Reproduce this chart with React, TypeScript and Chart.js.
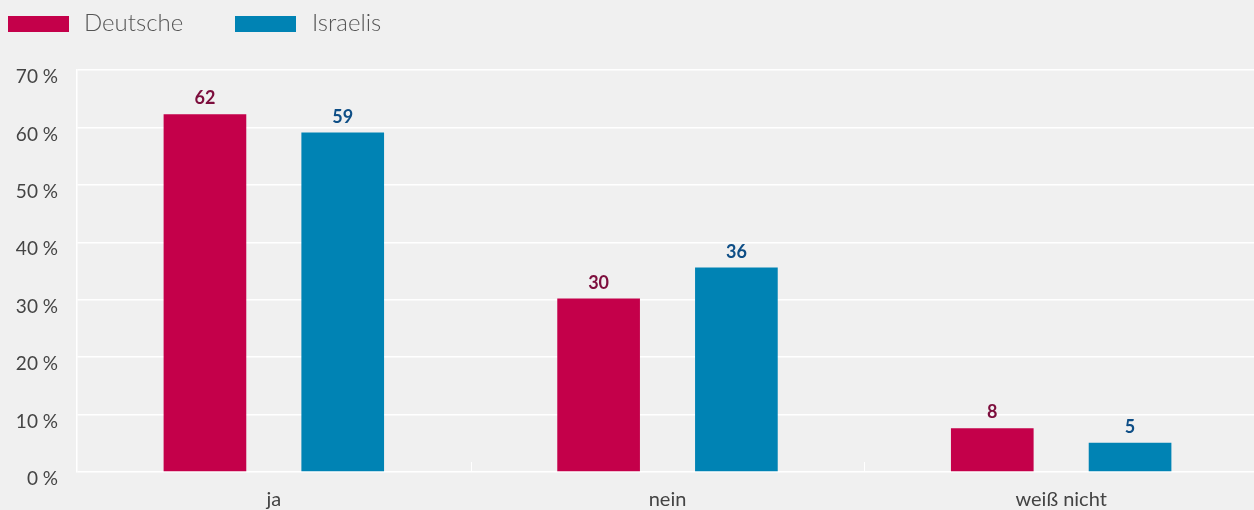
import React, { useEffect, useRef } from "react";
import { Chart, registerables } from "chart.js";

Chart.register(...registerables);

const categories = ["ja", "nein", "weiß nicht"];
const deutsche = [62.3, 30.2, 7.6];
const israelis = [59.1, 35.6, 5.1];
const seriesNames = ["Deutsche", "Israelis"];
const yTicksMax = 70;
const yTickStep = 10;

const RED = "#c4004a";
const BLUE = "#0083b4";
const RED_LABEL = "#7d0e3d";
const BLUE_LABEL = "#0e4e86";
const BG = "#f0f0f0";
const FONT = "Lato, 'Open Sans', sans-serif";

const valueLabels = {
  id: "valueLabels",
  afterDatasetsDraw(chart: any) {
    const ctx = chart.ctx;
    ctx.save();
    ctx.font = `bold 18px ${FONT}`;
    ctx.textAlign = "center";
    ctx.textBaseline = "alphabetic";
    chart.data.datasets.forEach((ds: any, di: number) => {
      const meta = chart.getDatasetMeta(di);
      ctx.fillStyle = di === 0 ? RED_LABEL : BLUE_LABEL;
      meta.data.forEach((bar: any, i: number) => {
        ctx.fillText(String(Math.round(ds.data[i])), bar.x, bar.y - 10);
      });
    });
    ctx.restore();
  },
};

const categoryTicks = {
  id: "categoryTicks",
  afterDraw(chart: any) {
    const x = chart.scales.x;
    const ctx = chart.ctx;
    const bottom = chart.chartArea.bottom;
    ctx.save();
    ctx.strokeStyle = "#ffffff";
    ctx.lineWidth = 1;
    for (let i = 0; i < categories.length - 1; i++) {
      const px = Math.round((x.getPixelForValue(i) + x.getPixelForValue(i + 1)) / 2) + 0.5;
      ctx.beginPath();
      ctx.moveTo(px, bottom - 10);
      ctx.lineTo(px, bottom);
      ctx.stroke();
    }
    ctx.restore();
  },
};

export default function App() {
  const ref = useRef<HTMLCanvasElement | null>(null);

  useEffect(() => {
    document.body.style.margin = "0";
    document.body.style.background = BG;
    if (!ref.current) return;
    const chart = new Chart(ref.current, {
      type: "bar",
      data: {
        labels: categories,
        datasets: [
          { label: seriesNames[0], data: deutsche, backgroundColor: RED, categoryPercentage: 0.7, barPercentage: 0.6 },
          { label: seriesNames[1], data: israelis, backgroundColor: BLUE, categoryPercentage: 0.7, barPercentage: 0.6 },
        ],
      },
      options: {
        animation: false,
        responsive: false,
        maintainAspectRatio: false,
        layout: { padding: { top: 70, left: 0, right: 0, bottom: 0 } },
        plugins: {
          legend: { display: false },
          tooltip: { enabled: false },
        },
        scales: {
          x: {
            grid: { display: false },
            border: { display: false },
            ticks: { color: "#444", font: { family: FONT, size: 20 }, padding: 8 },
            afterFit(scale: any) {
              scale.height = 38;
            },
          },
          y: {
            min: 0,
            max: yTicksMax,
            ticks: {
              stepSize: yTickStep,
              color: "#444",
              font: { family: FONT, size: 19 },
              padding: 19,
              labelOffset: 7,
              callback: (v: any) => `${v} %`,
            },
            grid: { color: "#ffffff", lineWidth: 1.5, drawTicks: false },
            border: { display: true, color: "#ffffff", width: 1.5 },
            afterFit(scale: any) {
              scale.width = 77;
            },
          },
        },
      },
      plugins: [valueLabels, categoryTicks],
    });
    return () => chart.destroy();
  }, []);

  const legendText: React.CSSProperties = {
    position: "absolute",
    top: 6,
    fontFamily: FONT,
    fontWeight: 300,
    fontSize: 24,
    color: "#555",
    lineHeight: "32px",
    whiteSpace: "nowrap",
  };

  return (
    <div style={{ position: "relative", width: 1254, height: 510, background: BG, overflow: "hidden" }}>
      <canvas ref={ref} width={1258} height={510} style={{ display: "block" }} />
      <div style={{ position: "absolute", left: 8, top: 16, width: 61, height: 16, background: RED }} />
      <div style={{ ...legendText, left: 84 }}>{seriesNames[0]}</div>
      <div style={{ position: "absolute", left: 235, top: 16, width: 61, height: 16, background: BLUE }} />
      <div style={{ ...legendText, left: 312 }}>{seriesNames[1]}</div>
    </div>
  );
}
